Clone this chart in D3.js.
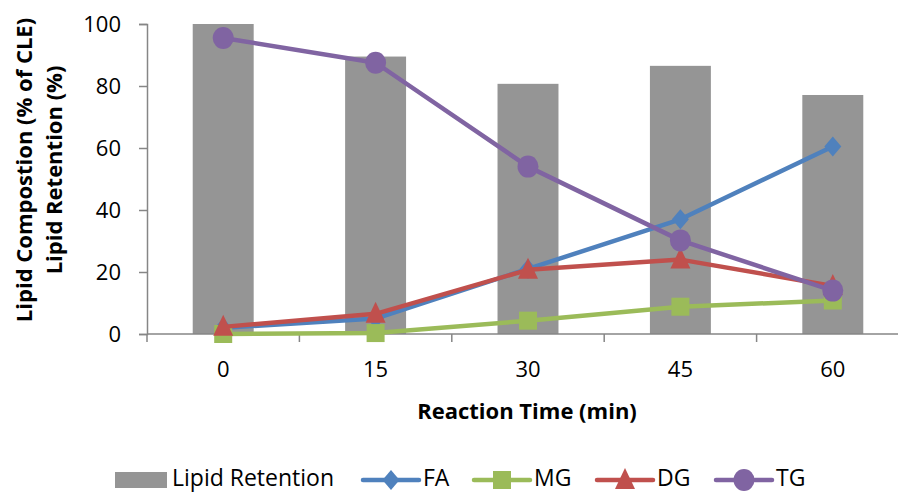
<!DOCTYPE html>
<html><head><meta charset="utf-8">
<script src="https://cdn.jsdelivr.net/npm/d3@7"></script>
<style>body{margin:0;background:#fff}svg{display:block}text{font-family:"Open Sans",sans-serif}</style>
</head><body><svg id="c" width="898" height="492"></svg>
<script>
const categories = ["0","15","30","45","60"];
const retention = [100, 89.5, 80.7, 86.5, 77.1];
const FA = [2.0, 5.0, 21.0, 37.0, 60.5];
const MG = [0.0, 0.3, 4.3, 8.8, 10.8];
const DG = [2.3, 6.5, 20.7, 24.0, 15.5];
const TG = [95.5, 87.5, 54.0, 30.2, 14.0];
const yTicks = [0, 20, 40, 60, 80, 100];

const svg = d3.select("#c");
const x = d3.scaleBand().domain(categories).range([147, 909]).paddingInner(0.6).paddingOuter(0.3);
const y = d3.scaleLinear().domain([0, 100]).range([334, 24]);
const cx = c => x(c) + x.bandwidth() / 2;
const axisColor = "#868686";

// bars
svg.append("g").selectAll("rect").data(categories).join("rect")
  .attr("x", d => x(d)).attr("width", x.bandwidth())
  .attr("y", (d, i) => y(retention[i])).attr("height", (d, i) => y(0) - y(retention[i]))
  .attr("fill", "#959595");

// y axis
const ya = svg.append("g").attr("transform", "translate(147,0)")
  .call(d3.axisLeft(y).tickValues(yTicks).tickSize(8).tickPadding(18).tickFormat(d3.format("d")));
ya.select(".domain").attr("stroke", axisColor).attr("stroke-width", 1.5);
ya.selectAll(".tick line").attr("stroke", axisColor).attr("stroke-width", 1.5);
ya.selectAll(".tick text").attr("font-size", 22).attr("fill", "#000").attr("font-family", "Open Sans");

// x axis
const xg = svg.append("g");
xg.append("line").attr("x1", 147).attr("x2", 909).attr("y1", y(0)).attr("y2", y(0))
  .attr("stroke", axisColor).attr("stroke-width", 1.5);
const bounds = d3.range(categories.length + 1).map(i => x.range()[0] + i * x.step());
xg.selectAll("line.t").data(bounds).join("line").attr("class", "t")
  .attr("x1", d => d).attr("x2", d => d).attr("y1", y(0)).attr("y2", y(0) + 8)
  .attr("stroke", axisColor).attr("stroke-width", 1.5);
xg.selectAll("text").data(categories).join("text")
  .attr("x", d => cx(d)).attr("y", 377).attr("text-anchor", "middle")
  .attr("font-size", 22).attr("fill", "#000").text(d => d);

// series
const series = [
  {name: "FA", data: FA, color: "#4F81BD", shape: "diamond"},
  {name: "MG", data: MG, color: "#9BBB59", shape: "square"},
  {name: "DG", data: DG, color: "#C0504D", shape: "triangle"},
  {name: "TG", data: TG, color: "#8064A2", shape: "circle"}
];
function marker(g, shape, color, px, py) {
  if (shape === "diamond") g.append("path").attr("d", `M${px},${py-10}L${px+8.5},${py}L${px},${py+10}L${px-8.5},${py}Z`).attr("fill", color);
  else if (shape === "square") g.append("rect").attr("x", px-9).attr("y", py-9).attr("width", 18).attr("height", 18).attr("fill", color);
  else if (shape === "triangle") g.append("path").attr("d", `M${px},${py-12}L${px+10},${py+9}L${px-10},${py+9}Z`).attr("fill", color);
  else g.append("ellipse").attr("cx", px).attr("cy", py).attr("rx", 10.5).attr("ry", 11).attr("fill", color);
}
const line = d3.line().x((d, i) => cx(categories[i])).y(d => y(d));
series.forEach(s => {
  const g = svg.append("g");
  g.append("path").attr("d", line(s.data)).attr("fill", "none").attr("stroke", s.color)
    .attr("stroke-width", 4.5).attr("stroke-linejoin", "round").attr("stroke-linecap", "round");
  s.data.forEach((v, i) => marker(g, s.shape, s.color, cx(categories[i]), y(v)));
});

// axis titles
svg.append("text").attr("x", 527).attr("y", 419).attr("text-anchor", "middle")
  .attr("font-size", 22).attr("font-weight", "bold").text("Reaction Time (min)");
const yt = svg.append("text").attr("transform", "translate(0,170) rotate(-90)")
  .attr("text-anchor", "middle").attr("font-size", 22).attr("font-weight", "bold");
yt.append("tspan").attr("x", 0).attr("y", 32).text("Lipid Compostion (% of CLE)");
yt.append("tspan").attr("x", 0).attr("y", 62).text("Lipid Retention (%)");

// legend
const lg = svg.append("g");
lg.append("rect").attr("x", 115).attr("y", 472).attr("width", 52).attr("height", 16).attr("fill", "#959595");
lg.append("text").attr("x", 172).attr("y", 486).attr("font-size", 23).text("Lipid Retention");
const legX = [363, 474, 597, 716];
series.forEach((s, i) => {
  const x0 = legX[i];
  lg.append("line").attr("x1", x0).attr("x2", x0 + 56).attr("y1", 480).attr("y2", 480)
    .attr("stroke", s.color).attr("stroke-width", 4.5).attr("stroke-linecap", "round");
  marker(lg, s.shape, s.color, x0 + 28, 480);
  lg.append("text").attr("x", x0 + 60).attr("y", 486).attr("font-size", 23).text(s.name);
});
</script></body></html>
